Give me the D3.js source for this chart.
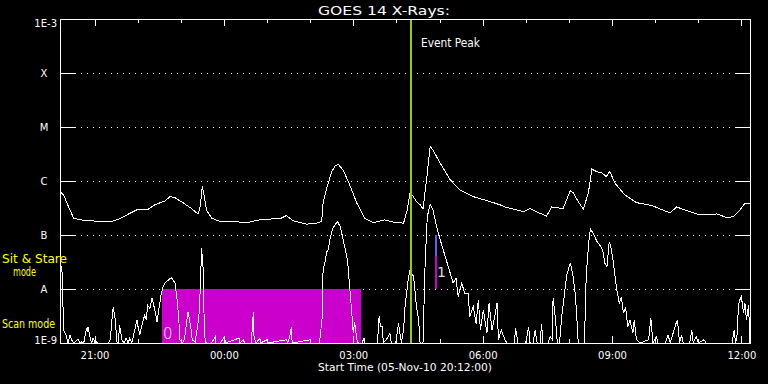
<!DOCTYPE html>
<html>
<head>
<meta charset="utf-8">
<script src="https://cdn.jsdelivr.net/npm/d3@7"></script>
<style>
  html, body { margin: 0; padding: 0; background: #000; }
  svg { display: block; }
</style>
</head>
<body>
<svg id="chart" width="768" height="384"></svg>
<script>
// ---------------- DATA ----------------
const startTime = "2010-11-05T20:12:00Z";
const endTime   = "2010-11-06T12:12:00Z";

const chartTitle = "GOES 14 X-Rays:";
const xAxisTitle = "Start Time (05-Nov-10 20:12:00)";

// flux levels (W/m^2) and their labels
const levelFlux   = [1e-9, 1e-8, 1e-7, 1e-6, 1e-5, 1e-4, 1e-3];
const levelLabels = ["1E-9", "A", "B", "C", "M", "X", "1E-3"];

// major time ticks and labels
const timeTicks = ["2010-11-05T21:00:00Z", "2010-11-06T00:00:00Z", "2010-11-06T03:00:00Z",
                   "2010-11-06T06:00:00Z", "2010-11-06T09:00:00Z", "2010-11-06T12:00:00Z"];
const timeTickLabels = ["21:00", "00:00", "03:00", "06:00", "09:00", "12:00"];

// event markers
const eventPeakTime = "2010-11-06T04:20:00Z";
const eventPeakLabel = "Event Peak";
const scanWindow = ["2010-11-05T22:34:00Z", "2010-11-06T03:11:00Z"];   // magenta block
const scanWindowFlux = [1e-9, 1e-8];
const scanWindowLabel = "0";
const flagTime = "2010-11-06T04:55:00Z";
const flagBlueFlux = [1e-7, 4.1e-8];
const flagMagentaFlux = [4.1e-8, 1e-8];
const flagLabel = "1";

// mode labels (left margin)
const modeLabels = ["Sit & Stare", "mode", "Scan mode"];

// Long channel (1-8 A): [minutes since start, log10 flux]
const longChannel = [
  [0,-6.19],[5,-6.26],[12,-6.48],[19,-6.69],[28,-6.72],[46,-6.74],[70,-6.76],[83,-6.70],[97,-6.60],
  [109,-6.52],[123,-6.52],[132,-6.44],[146,-6.37],[153,-6.29],[160,-6.31],[172,-6.41],[183,-6.51],
  [192,-6.61],[195,-6.48],[198,-6.09],[200,-6.23],[204,-6.54],[211,-6.69],[223,-6.75],[239,-6.75],
  [260,-6.77],[278,-6.72],[297,-6.70],[306,-6.70],[315,-6.64],[325,-6.74],[343,-6.80],[357,-6.78],
  [364,-6.75],[366,-6.41],[371,-6.14],[378,-5.83],[383,-5.72],[387,-5.69],[394,-5.80],[403,-6.07],
  [413,-6.41],[424,-6.69],[436,-6.77],[452,-6.72],[466,-6.77],[478,-6.78],[483,-6.54],[487,-6.23],
  [491,-6.28],[496,-6.38],[501,-6.44],[505,-6.52],[510,-5.98],[515,-5.36],[519,-5.43],[529,-5.67],
  [543,-5.98],[557,-6.17],[575,-6.29],[598,-6.38],[612,-6.44],[621,-6.49],[631,-6.52],[645,-6.57],
  [654,-6.51],[663,-6.57],[677,-6.65],[684,-6.48],[700,-6.51],[710,-6.18],[714,-6.22],[721,-6.38],
  [728,-6.52],[735,-6.23],[740,-5.78],[747,-5.83],[754,-5.85],[760,-5.92],[765,-5.82],[772,-6.04],
  [786,-6.26],[802,-6.40],[825,-6.46],[835,-6.52],[849,-6.59],[858,-6.48],[872,-6.55],[890,-6.63],
  [914,-6.61],[928,-6.68],[937,-6.66],[946,-6.54],[953,-6.41],[960,-6.41]
];

// Short channel (0.5-4 A): [minutes since start, log10 flux]
const shortChannel = [
  [0,-7.46],[3,-7.70],[5,-8.76],[7,-8.81],[9,-8.88],[11,-9],[14,-8.85],[16,-8.94],[19,-9],[25,-8.93],
  [28,-9],[30,-8.98],[33,-9],[37,-8.73],[38,-8.80],[39,-8.70],[42,-8.91],[44,-9],[46,-8.91],[49,-9],
  [51,-8.98],[53,-9],[67,-9],[70,-8.94],[72,-8.61],[74,-8.33],[77,-8.57],[79,-8.98],[81,-9],[83,-8.67],
  [86,-8.94],[89,-9],[92,-8.91],[95,-9],[97,-8.91],[100,-9],[104,-8.76],[107,-8.57],[109,-8.73],
  [111,-8.85],[115,-8.61],[118,-8.48],[120,-8.57],[122,-8.30],[125,-8.36],[128,-8.17],[132,-8.39],
  [135,-8.61],[138,-8.33],[141,-8.08],[143,-7.98],[146,-7.89],[151,-7.83],[153,-7.81],[155,-7.79],
  [157,-7.83],[160,-7.89],[163,-8.20],[165,-8.51],[167,-8.94],[170,-9],[173,-8.94],[176,-8.63],
  [178,-8.42],[182,-8.70],[184,-8.94],[188,-8.98],[192,-8.64],[194,-8.39],[196,-7.65],[197,-7.25],
  [199,-7.59],[200,-8.33],[202,-8.98],[205,-9],[211,-9],[216,-8.88],[217,-9],[223,-9],[229,-8.88],
  [230,-9],[249,-8.91],[250,-9],[255,-8.94],[257,-9],[266,-9],[268,-8.64],[269,-8.42],[270,-8.91],
  [273,-9],[278,-8.91],[279,-9],[288,-8.94],[289,-9],[315,-8.94],[317,-9],[320,-8.85],[322,-8.71],
  [323,-9],[348,-8.94],[349,-9],[361,-9],[365,-8.50],[366,-7.65],[369,-7.49],[371,-7.31],[373,-7.28],
  [376,-7.04],[380,-6.86],[383,-6.81],[386,-6.75],[390,-6.85],[394,-7.09],[400,-7.46],[403,-7.96],
  [406,-8.45],[408,-8.82],[410,-8.61],[413,-8.94],[415,-9],[420,-9],[423,-8.91],[424,-9],[441,-9],
  [443,-8.76],[444,-8.50],[446,-8.70],[448,-8.69],[450,-9],[457,-8.88],[459,-8.82],[461,-9],[467,-9],
  [471,-8.64],[473,-8.82],[475,-9],[478,-8.76],[480,-8.33],[485,-7.77],[487,-7.65],[492,-7.77],
  [496,-8.33],[499,-8.57],[501,-9],[505,-9],[508,-7.52],[511,-6.66],[515,-6.43],[519,-6.54],
  [524,-6.85],[529,-7.09],[536,-7.40],[543,-7.71],[547,-7.89],[551,-7.80],[554,-8.14],[559,-7.89],
  [563,-8.08],[568,-8.08],[570,-8.51],[575,-8.33],[579,-8.64],[582,-8.20],[585,-8.76],[589,-8.39],
  [594,-8.82],[597,-8.26],[601,-8.76],[604,-8.57],[608,-8.26],[610,-8.94],[614,-8.76],[619,-8.94],
  [622,-9],[632,-9],[634,-8.73],[637,-9],[648,-9],[652,-8.70],[654,-9],[658,-9],[661,-8.76],[664,-9],
  [668,-9],[670,-8.64],[672,-9],[679,-9],[682,-8.88],[685,-8.94],[686,-8.17],[689,-8.51],[692,-9],
  [695,-9],[698,-8.51],[700,-8.30],[703,-7.96],[705,-7.74],[710,-7.52],[714,-7.77],[717,-8.11],
  [719,-8.51],[721,-9],[730,-9],[731,-8.11],[733,-7.59],[736,-7.09],[738,-6.89],[742,-6.97],
  [747,-7.12],[751,-7.19],[755,-7.28],[758,-7.52],[761,-7.59],[764,-7.14],[766,-7.19],[770,-7.52],
  [774,-7.96],[778,-8.26],[781,-8.15],[784,-8.45],[787,-8.34],[790,-8.70],[793,-8.57],[797,-8.82],
  [799,-8.57],[802,-8.94],[807,-9],[819,-8.94],[822,-8.54],[825,-9],[830,-8.88],[832,-9],[842,-9],
  [846,-8.85],[849,-9],[857,-8.64],[859,-8.57],[862,-9],[865,-8.85],[867,-9],[876,-9],[879,-8.76],
  [881,-9],[885,-8.88],[888,-9],[896,-8.94],[899,-9],[935,-9],[938,-8.76],[940,-9],[942,-8.85],
  [944,-8.30],[946,-8.20],[948,-8.14],[951,-8.45],[953,-8.26],[955,-8.57],[958,-8.30],[960,-9]
];

// ---------------- CHART ----------------
const W = 768, H = 384;
const plot = { left: 60, right: 750, top: 19, bottom: 343 };
const SANS = "'DejaVu Sans', sans-serif";

const svg = d3.select("#chart");
svg.append("rect").attr("width", W).attr("height", H).attr("fill", "#000");

const t0 = new Date(startTime);
const toDate = m => new Date(t0.getTime() + m * 60000);

const x = d3.scaleUtc().domain([t0, new Date(endTime)]).range([plot.left, plot.right]);
const y = d3.scaleLog().domain([levelFlux[0], levelFlux[levelFlux.length - 1]])
  .range([plot.bottom, plot.top]).clamp(true);

const snap = v => Math.round(v) + 0.5;

// dotted level grid lines (A..X)
svg.append("g").selectAll("line")
  .data(levelFlux.slice(1, -1))
  .join("line")
  .attr("x1", plot.left + 15).attr("x2", plot.right - 15)
  .attr("y1", d => snap(y(d))).attr("y2", d => snap(y(d)))
  .attr("stroke", "#fff").attr("stroke-width", 1)
  .attr("stroke-dasharray", "1,5")
  .attr("shape-rendering", "crispEdges");

// scan-mode window
svg.append("rect")
  .attr("x", Math.round(x(new Date(scanWindow[0]))))
  .attr("y", Math.round(y(scanWindowFlux[1])))
  .attr("width", Math.round(x(new Date(scanWindow[1])) - x(new Date(scanWindow[0]))))
  .attr("height", Math.round(y(scanWindowFlux[0]) - y(scanWindowFlux[1])))
  .attr("fill", "#cc00cc")
  .attr("shape-rendering", "crispEdges");

// curves
const line = d3.line()
  .x(d => x(toDate(d[0])))
  .y(d => y(Math.pow(10, d[1])));

svg.append("defs").append("clipPath").attr("id", "clip")
  .append("rect").attr("x", plot.left).attr("y", plot.top)
  .attr("width", plot.right - plot.left).attr("height", plot.bottom - plot.top);

const curves = svg.append("g").attr("clip-path", "url(#clip)");
[longChannel, shortChannel].forEach(series => {
  curves.append("path")
    .datum(series)
    .attr("d", line)
    .attr("fill", "none")
    .attr("stroke", "#fff")
    .attr("stroke-width", 1)
    .attr("shape-rendering", "crispEdges");
});

// scan window label
svg.append("text")
  .attr("x", x(new Date(scanWindow[0])) + 1)
  .attr("y", y(scanWindowFlux[0]) - 4)
  .attr("fill", "#fff")
  .attr("font-family", SANS).attr("font-size", 15).attr("font-weight", 200)
  .text(scanWindowLabel);

// flag bar
const fx = Math.round(x(new Date(flagTime)));
svg.append("line")
  .attr("x1", fx).attr("x2", fx)
  .attr("y1", y(flagBlueFlux[0])).attr("y2", y(flagBlueFlux[1]))
  .attr("stroke", "#5b63e8").attr("stroke-width", 2);
svg.append("line")
  .attr("x1", fx).attr("x2", fx)
  .attr("y1", y(flagMagentaFlux[0])).attr("y2", y(flagMagentaFlux[1]))
  .attr("stroke", "#cc00cc").attr("stroke-width", 2);
svg.append("text")
  .attr("x", fx + 1).attr("y", 277)
  .attr("fill", "#ddd")
  .attr("font-family", SANS).attr("font-size", 14)
  .text(flagLabel);

// event peak line
const ex = Math.round(x(new Date(eventPeakTime)));
svg.append("line")
  .attr("x1", ex).attr("x2", ex)
  .attr("y1", plot.top).attr("y2", plot.bottom)
  .attr("stroke", "#99cc00").attr("stroke-width", 2);
svg.append("text")
  .attr("x", ex + 10).attr("y", 47)
  .attr("fill", "#fff").attr("font-family", SANS).attr("font-size", 12)
  .attr("textLength", 59).attr("lengthAdjust", "spacingAndGlyphs")
  .text(eventPeakLabel);

// ---------- axes ----------
const styleAxis = g => {
  g.attr("color", "#fff").attr("font-family", SANS).attr("font-size", 10);
  g.selectAll("text").attr("fill", "#fff");
  g.selectAll("line, path").attr("shape-rendering", "crispEdges");
};
const tickDates = timeTicks.map(d => new Date(d));
const hourTicks = d3.utcHour.range(t0, new Date(endTime));

// bottom
svg.append("g").attr("transform", `translate(0,${plot.bottom})`)
  .call(d3.axisBottom(x).tickValues(hourTicks).tickSize(-4).tickSizeOuter(0).tickFormat(""))
  .call(styleAxis);
svg.append("g").attr("transform", `translate(0,${plot.bottom})`)
  .call(d3.axisBottom(x).tickValues(tickDates).tickSize(-7).tickSizeOuter(0).tickPadding(9)
    .tickFormat((d, i) => timeTickLabels[i]))
  .call(styleAxis);

// top
svg.append("g").attr("transform", `translate(0,${plot.top})`)
  .call(d3.axisTop(x).tickValues(hourTicks).tickSize(-4).tickSizeOuter(0).tickFormat(""))
  .call(styleAxis);
svg.append("g").attr("transform", `translate(0,${plot.top})`)
  .call(d3.axisTop(x).tickValues(tickDates).tickSize(-7).tickSizeOuter(0).tickFormat(""))
  .call(styleAxis);

// left
const leftAxis = svg.append("g").attr("transform", `translate(${plot.left},0)`)
  .call(d3.axisLeft(y).tickValues(levelFlux).tickSize(-15).tickSizeOuter(0).tickPadding(3)
    .tickFormat((d, i) => levelLabels[i]))
  .call(styleAxis);
leftAxis.selectAll(".tick text").each(function (d, i) {
  const t = d3.select(this);
  if (i === 0) { t.attr("dy", "0em"); }
  else if (i === levelFlux.length - 1) { t.attr("dy", "0.78em"); }
  else { t.attr("text-anchor", "middle").attr("x", -16); }
});

// right
svg.append("g").attr("transform", `translate(${plot.right},0)`)
  .call(d3.axisRight(y).tickValues(levelFlux).tickSize(-15).tickSizeOuter(0).tickFormat(""))
  .call(styleAxis);

// titles
svg.append("text")
  .attr("x", 318).attr("y", 15)
  .attr("fill", "#fff").attr("font-family", SANS).attr("font-size", 13)
  .attr("textLength", 132).attr("lengthAdjust", "spacingAndGlyphs")
  .text(chartTitle);
svg.append("text")
  .attr("x", 318).attr("y", 371)
  .attr("fill", "#fff").attr("font-family", SANS).attr("font-size", 10.5)
  .attr("textLength", 174).attr("lengthAdjust", "spacingAndGlyphs")
  .text(xAxisTitle);

// mode labels
const modeGroup = svg.append("g").attr("fill", "#ffff00").attr("font-family", SANS).attr("font-size", 12);
modeGroup.append("text").attr("x", 2).attr("y", 263)
  .attr("textLength", 65).attr("lengthAdjust", "spacingAndGlyphs").text(modeLabels[0]);
modeGroup.append("text").attr("x", 13).attr("y", 276)
  .attr("textLength", 23).attr("lengthAdjust", "spacingAndGlyphs").text(modeLabels[1]);
modeGroup.append("text").attr("x", 2).attr("y", 327.5)
  .attr("textLength", 53).attr("lengthAdjust", "spacingAndGlyphs").text(modeLabels[2]);
</script>
</body>
</html>
